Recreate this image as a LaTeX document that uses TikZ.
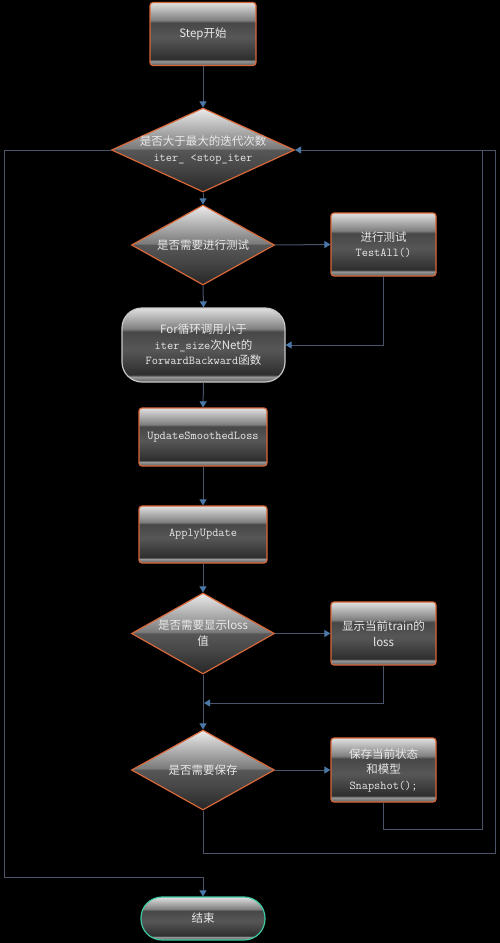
\documentclass[tikz,border=0pt]{standalone}
\usepackage{fontspec}
\setmainfont{Noto Sans CJK SC}
\usetikzlibrary{shapes.geometric,arrows.meta}
\definecolor{borderor}{HTML}{D8683A}
\definecolor{linec}{HTML}{4B5468}
\definecolor{arrc}{HTML}{4A78A8}
\definecolor{txt}{HTML}{E8E8E8}
\definecolor{endgreen}{HTML}{3CC8A0}
\definecolor{fbgray}{HTML}{C8C8C8}
\pgfdeclareverticalshading{glossbox}{100bp}{%
 color(0bp)=(gray!70!black);
 color(25bp)=(gray!70!black);
 color(28.5bp)=(gray!80!white);
 color(30bp)=(black!82);
 color(47bp)=(black!66);
 color(59bp)=(black!72);
 color(61bp)=(black!50);
 color(75bp)=(black!12);
 color(100bp)=(black!12)}
\pgfdeclareverticalshading{glossdia}{100bp}{%
 color(0bp)=(black!85);
 color(25bp)=(black!85);
 color(40bp)=(black!72);
 color(50bp)=(black!66);
 color(51bp)=(black!52);
 color(75bp)=(black!8);
 color(100bp)=(black!8)}
\newcommand{\fs}{\fontsize{11.5pt}{15.5pt}\selectfont}
\newcommand{\cd}[1]{{\ttfamily\fontsize{12pt}{15.5pt}\selectfont #1}}
\tikzset{
 box/.style={rectangle, rounded corners=3pt, draw=borderor, line width=1.2pt,
   shading=glossbox, text=txt, align=center, inner sep=0pt, font=\fs},
 dia/.style={diamond, draw=borderor, line width=1.2pt, shading=glossdia, inner sep=0pt},
 txt/.style={text=txt, align=center, font=\fs, inner sep=0pt},
 conn/.style={draw=linec, line width=1pt},
 arr/.style={conn, -{Triangle[width=7pt,length=6pt,color=arrc,fill=arrc]}},
}
\begin{document}
\begin{tikzpicture}[x=1pt,y=-1pt]
\fill[black] (0,0) rectangle (500,943);
\useasboundingbox (0,0) rectangle (500,943);

\node[box, minimum width=106pt, minimum height=63pt] (start) at (203,34) {Step开始};
\node[dia, minimum width=183pt, minimum height=84pt,
  label={[txt]center:{是否大于最大的迭代次数\\\cd{iter\_ <stop\_iter}}}] (d1) at (203,150) {};
\node[dia, minimum width=143pt, minimum height=80pt,
  label={[txt]center:{是否需要进行测试}}] (d2) at (203,245) {};
\node[box, minimum width=105pt, minimum height=63pt] (test) at (383.5,244.5) {进行测试\\\cd{TestAll()}};
\node[box, draw=fbgray, rounded corners=20pt, minimum width=163pt, minimum height=74pt] (fb) at (203.5,345)
  {For循环调用小于\\\cd{iter\_size}次Net的\\\cd{ForwardBackward}函数};
\node[box, minimum width=128pt, minimum height=58pt] (usl) at (203,437) {\cd{UpdateSmoothedLoss}};
\node[box, minimum width=128pt, minimum height=57pt] (au) at (203,534.5) {\cd{ApplyUpdate}};
\node[dia, minimum width=143pt, minimum height=81pt,
  label={[txt]center:{是否需要显示loss\\值}}] (dl) at (203,633.5) {};
\node[box, minimum width=105pt, minimum height=63pt] (lossb) at (383.5,633.5) {显示当前train的\\loss};
\node[dia, minimum width=143pt, minimum height=80pt,
  label={[txt]center:{是否需要保存}}] (ds) at (203,770) {};
\node[box, minimum width=105pt, minimum height=64pt] (saveb) at (383.5,770) {保存当前状态\\和模型\\\cd{Snapshot();}};
\node[box, draw=endgreen, rounded corners=21pt, minimum width=124pt, minimum height=43pt] (endn) at (203,918.5) {结束};

\coordinate (lefttop) at (4,150);
\coordinate (leftbot) at (4,877);
\coordinate (merge) at (203,703);
\coordinate (inR) at (482,829);
\coordinate (outR) at (495,853);

\draw[arr] (start.south) -- (d1.north);
\draw[arr] (d1.west) -- (lefttop) -- (leftbot) -| (endn.north);
\draw[arr] (d1.south) -- (d2.north);
\draw[arr] (d2.east) -- (test.west);
\draw[arr] (test.south) |- (fb.east);
\draw[arr] (d2.south) -- (fb.north);
\draw[arr] (fb.south) -- (usl.north);
\draw[arr] (usl.south) -- (au.north);
\draw[arr] (au.south) -- (dl.north);
\draw[arr] (dl.east) -- (lossb.west);
\draw[arr] (lossb.south) |- ([xshift=1pt]merge);
\draw[arr] (dl.south) -- (ds.north);
\draw[arr] (ds.east) -- (saveb.west);
\draw[conn] (saveb.south) |- (inR) -- (482,150);
\draw[arr] (ds.south) |- (outR) -- (495,150) -- (d1.east);
\end{tikzpicture}
\end{document}
